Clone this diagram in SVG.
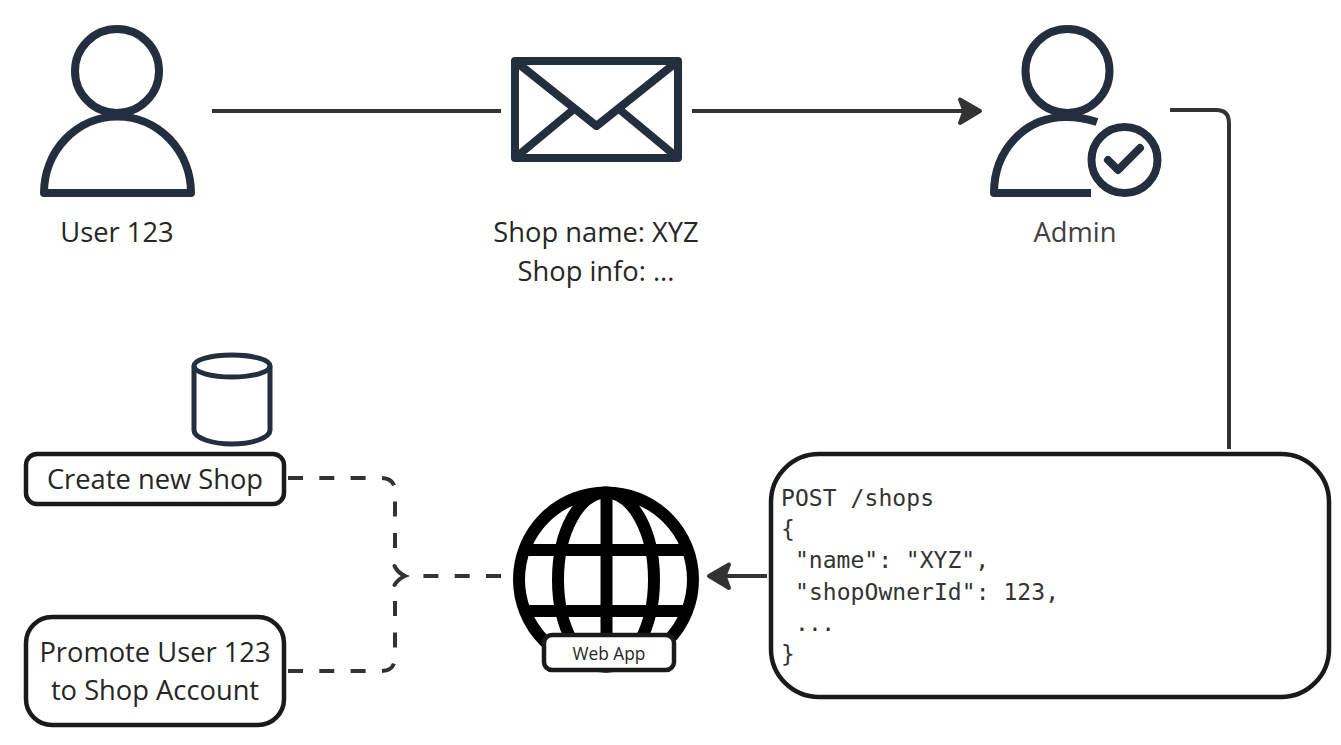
<svg xmlns="http://www.w3.org/2000/svg" width="1341" height="745" viewBox="0 0 1341 745">
<style>
.ic{fill:none;stroke:#232f3e;stroke-width:8;stroke-linejoin:round}
.c{fill:none;stroke:#333;stroke-width:4}
.d{stroke-dasharray:15 16.3}
.h{fill:#333;stroke:#333;stroke-width:4;stroke-linejoin:round}
.b{fill:#fff;stroke:#1a1a1a;stroke-width:4.5}
.g{fill:none;stroke:#000;stroke-width:12}
text{font-family:"Open Sans","Noto Sans",sans-serif;font-size:27.300px;fill:#262626;text-anchor:middle}
.m{font-family:"DejaVu Sans Mono","Liberation Mono",monospace;font-size:23px;text-anchor:start;fill:#333}
</style>
<rect width="1341" height="745" fill="#fff"/>
<g id="connectors">
<path class="c" d="M212 111H501"/>
<path class="c" d="M692 111H970"/>
<path class="h" d="M980 111L960 99.500L964.500 111L960 123Z"/>
<path class="c" d="M1170 110H1216Q1229 110 1229 123V449"/>
<path class="c" d="M767 576H725"/>
<path class="h" d="M709 576L729 564.500L724.500 576L729 588Z"/>
<path class="c d" d="M288 478H381Q395 478 395 492V560"/>
<path class="c d" d="M288 671H381Q395 671 395 657V592"/>
<path class="c" d="M394.500 566Q398 573 405 576Q398 579 394.500 585" stroke-linecap="round"/>
<path class="c d" d="M501 576H415"/>
</g>
<g id="user">
<circle class="ic" cx="117" cy="71" r="42"/>
<path class="ic" d="M44 193A73 76 0 0 1 191 193Z"/>
<text x="117" y="242">User 123</text>
</g>
<g id="message">
<rect class="ic" x="515" y="61" width="163" height="97"/>
<path class="ic" d="M515 61L596.500 126L678 61M515 158L574 109M619 109L678 158"/>
<text x="596" y="242">Shop name: XYZ</text>
<text x="596" y="281">Shop info: ...</text>
</g>
<g id="admin">
<circle class="ic" cx="1067.500" cy="71" r="42"/>
<path class="ic" d="M1091 193H994C994 150 1025 117 1066 117C1078 117 1088 119 1097 122"/>
<circle class="ic" cx="1124.500" cy="160" r="33"/>
<path class="ic" d="M1108 160L1118 170L1140 148" stroke-linecap="round"/>
<text x="1075" y="242" style="fill:#404040">Admin</text>
</g>
<g id="database">
<path d="M194 366V430C194 438 212 444 232 444C252 444 270 438 270 430V366" fill="none" stroke="#232f3e" stroke-width="5"/>
<ellipse cx="232" cy="366" rx="38" ry="11" fill="none" stroke="#232f3e" stroke-width="5"/>
</g>
<g id="create-shop">
<rect class="b" x="26" y="454" width="258" height="50" rx="11"/>
<text x="155" y="489">Create new Shop</text>
</g>
<g id="promote-user">
<rect class="b" x="26" y="617" width="258" height="108" rx="26"/>
<text x="155" y="662">Promote User 123</text>
<text x="155" y="700">to Shop Account</text>
</g>
<g id="web-app">
<circle class="g" cx="606" cy="579.500" r="87"/>
<ellipse class="g" cx="606" cy="579.500" rx="48" ry="87"/>
<path class="g" d="M606.500 492V667M526 550H686M526 611H686"/>
<rect class="b" x="544" y="635" width="130" height="35" rx="8"/>
<text x="609" y="660" style="font-size:17.300px">Web App</text>
</g>
<g id="request">
<rect class="b" x="771" y="454" width="558" height="243" rx="48"/>
<text class="m" x="781" y="506" textLength="153">POST /shops</text>
<text class="m" x="781" y="537">{</text>
<text class="m" x="795" y="568" textLength="194">"name": "XYZ",</text>
<text class="m" x="795" y="600" textLength="264">"shopOwnerId": 123,</text>
<text class="m" x="795" y="631" textLength="40">...</text>
<text class="m" x="781" y="662">}</text>
</g>
</svg>
